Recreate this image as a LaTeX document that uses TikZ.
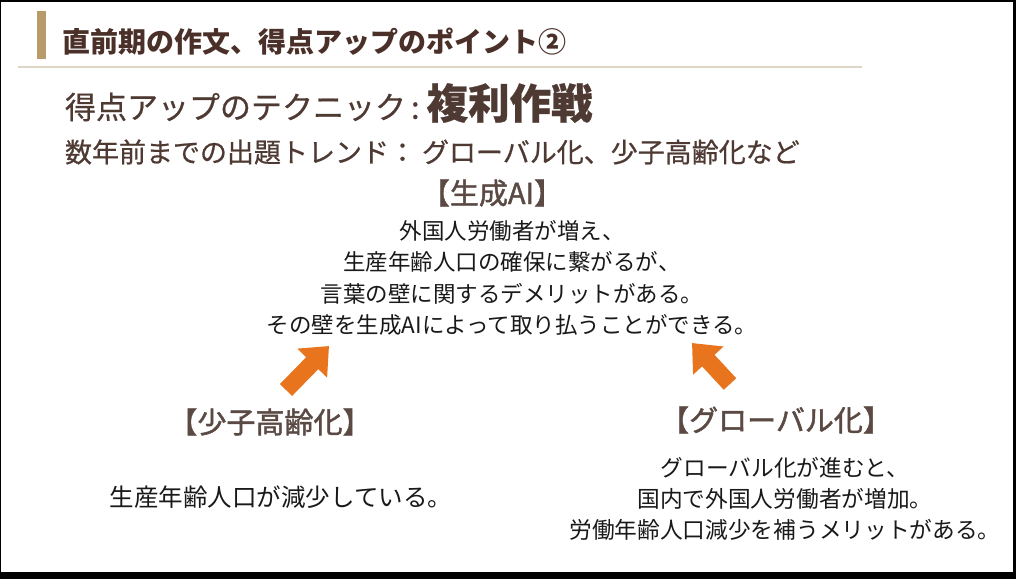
\documentclass[tikz,border=0pt]{standalone}
\usepackage{fontspec}
\setmainfont{Noto Sans CJK JP}
\newfontfamily\medfont{Noto Sans CJK JP}[FakeBold=0.6]
\newfontfamily\headfont{Noto Sans CJK JP}[FakeBold=1.5]
\usetikzlibrary{arrows.meta}
\definecolor{titlebrown}{HTML}{4A3029}
\definecolor{textbrown}{HTML}{4F3A33}
\definecolor{headbrown}{HTML}{5B4A44}
\definecolor{goldbar}{HTML}{B89B68}
\definecolor{rulecol}{HTML}{DDD5C5}
\definecolor{arrorange}{HTML}{E8741E}
\tikzset{
  txt/.style={inner sep=0pt, outer sep=0pt},
  heading/.style={txt, text=headbrown, font=\headfont\fontsize{29}{34}\selectfont},
  body/.style={txt, text=black!90, align=center, font=\fontsize{22.5}{31.5}\selectfont},
  bigarrow/.style={draw=arrorange, line width=17pt, -{Triangle[length=24pt,width=40pt]}, arrorange},
}
\begin{document}
\begin{tikzpicture}[x=1pt,y=-1pt]
  \useasboundingbox (0,0) rectangle (1016,579);
  \fill[black] (0,0) rectangle (1016,579);
  \fill[white] (1,2) rectangle (1013,572);
  % title bar
  \fill[goldbar] (37,11) rectangle (46,59);
  \draw[rulecol, line width=1.3pt] (18,67) -- (862,67);
  \node[txt, anchor=west, text=titlebrown, font=\bfseries\fontsize{28}{32}\selectfont] (title) at (62,42) {直前期の作文、得点アップのポイント②};
  \node[txt, anchor=west, text=textbrown, font=\medfont\fontsize{31}{36}\selectfont] (tech) at (65,103) {得点アップのテクニック\hspace{5pt}:\hspace{7pt}{\bfseries\fontsize{41.5}{46}\selectfont 複利作戦}};
  \node[txt, anchor=west, text=textbrown, font=\medfont\fontsize{27}{32}\selectfont] (trend) at (65,152) {数年前までの出題トレンド：\hspace{6pt}グローバル化、少子高齢化など};
  % center
  \node[heading] (ai) at (492,193) {【生成AI】};
  \node[body] (aitext) at (512,278) {外国人労働者が増え、\\生産年齢人口の確保に繋がるが、\\言葉の壁に関するデメリットがある。\\その壁を生成AIによって取り払うことができる。};
  % left
  \node[heading] (shoshi) at (270,422) {【少子高齢化】};
  \node[body, font=\fontsize{24.5}{31}\selectfont] (shoshitext) at (281,497) {生産年齢人口が減少している。};
  % right
  \node[heading] (global) at (776,420) {【グローバル化】};
  \node[body, font=\fontsize{22.7}{31}\selectfont] (globaltext) at (785,499) {グローバル化が進むと、\\国内で外国人労働者が増加。\\労働年齢人口減少を補うメリットがある。};
  % arrows
  \coordinate (lt) at (286,390);
  \coordinate (lh) at (329,346);
  \coordinate (rt) at (730,384);
  \coordinate (rh) at (692,343);
  \draw[bigarrow] (lt) -- (lh);
  \draw[bigarrow] (rt) -- (rh);
\end{tikzpicture}
\end{document}
